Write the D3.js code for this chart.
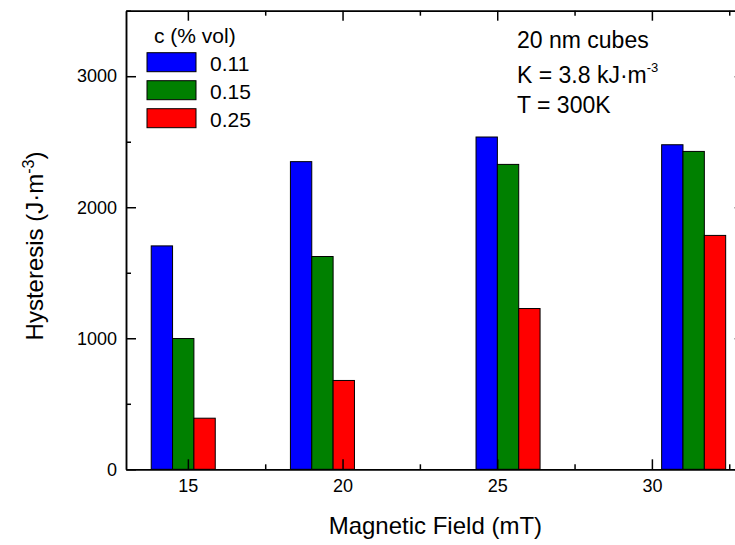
<!DOCTYPE html>
<html>
<head>
<meta charset="utf-8">
<script src="https://cdn.jsdelivr.net/npm/d3@7"></script>
<style>
  body { margin: 0; background: #fff; }
  text { font-family: "Liberation Sans", Arial, sans-serif; fill: #000; }
</style>
</head>
<body>
<div id="chart"></div>
<script>
// field values (mT) where each group of bars is centred
const fieldPositions = [14.85, 19.35, 25.35, 31.35];
const concentrations = ["0.11", "0.15", "0.25"];
const hyst011 = [1705, 2348, 2536, 2477];
const hyst015 = [998, 1624, 2327, 2426];
const hyst025 = [390, 678, 1227, 1785];
const xTicks = [15, 20, 25, 30];
const xMinor = [17.5, 22.5, 27.5, 32.5];
const yTicks = [0, 1000, 2000, 3000];
const yMinor = [500, 1500, 2500, 3500];
const colors = ["#0000ff", "#008000", "#ff0000"];
const barWidth = 0.69; // mT

const series = [hyst011, hyst015, hyst025];

const width = 735, height = 545;
const margin = { left: 126, top: 10.7, right: -9.7, bottom: 75.7 };
const w = width - margin.left - margin.right;
const h = height - margin.top - margin.bottom;

const svg = d3.select("#chart").append("svg")
    .attr("width", width)
    .attr("height", height);

const g = svg.append("g")
    .attr("transform", `translate(${margin.left},${margin.top})`);

const x = d3.scaleLinear().domain([13, 33]).range([0, w]);
const y = d3.scaleLinear().domain([0, 3500]).range([h, 0]);

// barras
series.forEach((vals, si) => {
    g.selectAll(".bar" + si)
        .data(vals)
        .enter()
        .append("rect")
        .attr("x", (d, i) => x(fieldPositions[i] + (si - 1.5) * barWidth))
        .attr("width", x(13 + barWidth) - x(13))
        .attr("y", d => y(d))
        .attr("height", d => y(0) - y(d))
        .style("fill", colors[si])
        .style("stroke", "#000")
        .style("stroke-width", 1);
});

// eixos
function styleAxis(sel) {
    sel.attr("font-family", null).attr("font-size", null);
    sel.selectAll("path, line").style("stroke", "#000").style("stroke-width", 1.5);
    sel.selectAll("text").style("font-size", "18px");
}

g.append("g").attr("transform", `translate(0,${h})`)
    .call(d3.axisBottom(x).tickValues(xTicks).tickSizeInner(-10).tickSizeOuter(0).tickPadding(10))
    .call(styleAxis);
g.append("g").attr("transform", `translate(0,${h})`)
    .call(d3.axisBottom(x).tickValues(xMinor).tickFormat("").tickSizeInner(-5).tickSizeOuter(0))
    .call(styleAxis);
g.append("g")
    .call(d3.axisTop(x).tickValues(xTicks).tickFormat("").tickSizeInner(-10).tickSizeOuter(0))
    .call(styleAxis);
g.append("g")
    .call(d3.axisTop(x).tickValues(xMinor).tickFormat("").tickSizeInner(-5).tickSizeOuter(0))
    .call(styleAxis);

g.append("g")
    .call(d3.axisLeft(y).tickValues(yTicks).tickFormat(d3.format("d")).tickSizeInner(-10).tickSizeOuter(0).tickPadding(9))
    .call(styleAxis);
g.append("g")
    .call(d3.axisLeft(y).tickValues(yMinor).tickFormat("").tickSizeInner(-5).tickSizeOuter(0))
    .call(styleAxis);
g.append("g").attr("transform", `translate(${w},0)`)
    .call(d3.axisRight(y).tickValues(yTicks).tickFormat("").tickSizeInner(-10).tickSizeOuter(0))
    .call(styleAxis);
g.append("g").attr("transform", `translate(${w},0)`)
    .call(d3.axisRight(y).tickValues(yMinor).tickFormat("").tickSizeInner(-5).tickSizeOuter(0))
    .call(styleAxis);

// títulos dos eixos
svg.append("text")
    .attr("x", margin.left + w / 2)
    .attr("y", 534)
    .attr("text-anchor", "middle")
    .style("font-size", "24px")
    .text("Magnetic Field (mT)");

const yt = svg.append("text")
    .attr("transform", "translate(43,246) rotate(-90)")
    .attr("text-anchor", "middle")
    .style("font-size", "24px");
yt.append("tspan").text("Hysteresis (J·m");
yt.append("tspan").attr("dy", "-9").style("font-size", "16px").text("-3");
yt.append("tspan").attr("dy", "9").text(")");

// legenda
svg.append("text")
    .attr("x", 154).attr("y", 43)
    .style("font-size", "21px")
    .text("c (% vol)");

const leg = svg.selectAll(".leg")
    .data(concentrations)
    .enter()
    .append("g")
    .attr("transform", (d, i) => `translate(147,${52.7 + i * 28})`);
leg.append("rect")
    .attr("width", 49).attr("height", 19)
    .style("fill", (d, i) => colors[i])
    .style("stroke", "#000")
    .style("stroke-width", 1);
leg.append("text")
    .attr("x", 63).attr("y", 18.5)
    .style("font-size", "21px")
    .text(d => d);

// anotação
svg.append("text")
    .attr("x", 517).attr("y", 48)
    .style("font-size", "23px")
    .text("20 nm cubes");
const kt = svg.append("text")
    .attr("x", 517).attr("y", 83)
    .style("font-size", "23px");
kt.append("tspan").text("K = 3.8 kJ·m");
kt.append("tspan").attr("dy", "-11").style("font-size", "13px").text("-3");
svg.append("text")
    .attr("x", 517).attr("y", 113)
    .style("font-size", "23px")
    .text("T = 300K");
</script>
</body>
</html>
